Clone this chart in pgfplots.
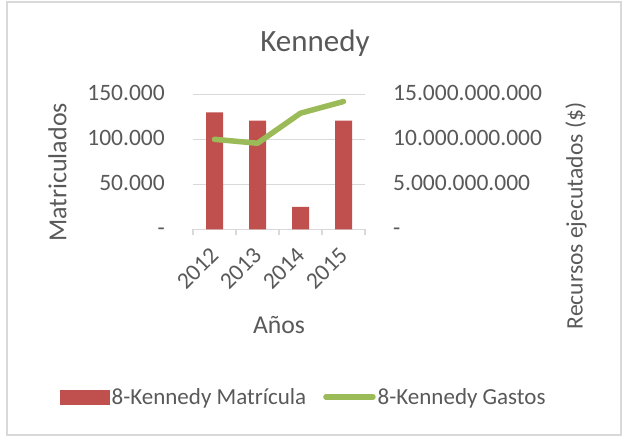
\documentclass[border=0pt]{standalone}
\usepackage{fontspec}
\setmainfont{Carlito}
\usepackage{pgfplots}
\pgfplotsset{compat=1.18}
\definecolor{barred}{HTML}{C0504D}
\definecolor{linegreen}{HTML}{9BBB59}
\definecolor{txt}{HTML}{595959}
\definecolor{gridc}{HTML}{D9D9D9}
\begin{document}
\begin{tikzpicture}
\path[use as bounding box] (0,0) rectangle (623pt,437pt);
\draw[gridc, line width=1.3pt] (7pt,2pt) rectangle (621pt,435pt);
\begin{axis}[
  at={(193pt,207.7pt)}, anchor=south west,
  scale only axis, width=172pt, height=135pt,
  xmin=-0.5, xmax=3.5, ymin=0, ymax=150000,
  scaled y ticks=false,
  axis x line*=bottom, axis y line*=left,
  x axis line style={draw=gridc, line width=1.3pt},
  y axis line style={draw=none},
  xtick={0,1,2,3}, xticklabels={2012,2013,2014,2015},
  minor xtick={-0.5,0.5,1.5,2.5,3.5},
  major tick length=0pt, minor tick length=6pt, tick align=outside,
  minor x tick style={draw=gridc, line width=1.3pt},
  major x tick style={draw=none},
  ytick={0,50000,100000,150000}, yticklabels={-,50.000,100.000,150.000},
  ymajorgrids, major grid style={draw=gridc, line width=1.3pt},
  ytick style={draw=none},
  yticklabel style={anchor=east, inner sep=0pt, xshift=-28pt, yshift=-3pt, text height=0.63em, text depth=0pt, font=\fontsize{23.5}{28}\selectfont, text=txt},
  xticklabel style={yshift=-22pt, rotate=45, anchor=east, inner sep=0pt, font=\fontsize{23.5}{28}\selectfont, text=txt},
  ylabel={Matriculados},
  every axis y label/.style={at={(axis description cs:-0.788,0.421)}, rotate=90, anchor=center, font=\fontsize{26}{30}\selectfont, text=txt},
  xlabel={Años},
  every axis x label/.style={at={(axis description cs:0.5,-0.709)}, anchor=center, font=\fontsize{25.7}{30}\selectfont, text=txt},
  title={Kennedy},
  every axis title/.style={at={(axis description cs:0.709,1.3156)}, anchor=base, font=\fontsize{31}{36}\selectfont, text=txt},
]
\addplot[ybar, bar width=17pt, fill=barred, draw=none] coordinates {(0,130000) (1,120700) (2,24800) (3,120700)};
\end{axis}
\begin{axis}[
  at={(193pt,207.7pt)}, anchor=south west,
  scale only axis, width=172pt, height=135pt,
  xmin=-0.5, xmax=3.5, ymin=0, ymax=15000000000,
  scaled y ticks=false,
  axis x line=none, axis y line*=right,
  y axis line style={draw=none}, ytick style={draw=none},
  major tick length=0pt,
  ytick={0,5000000000,10000000000,15000000000},
  yticklabels={-,5.000.000.000,10.000.000.000,15.000.000.000},
  yticklabel style={anchor=west, inner sep=0pt, xshift=28pt, yshift=-3pt, text height=0.63em, text depth=0pt, font=\fontsize{23.5}{28}\selectfont, text=txt},
  ylabel={Recursos ejecutados (\$)},
  every axis y label/.style={at={(axis description cs:2.227,0.0985)}, rotate=90, anchor=center, font=\fontsize{23.6}{28}\selectfont, text=txt},
  legend columns=2,
  legend cell align=left,
  legend style={draw=none, fill=none, inner sep=0pt, at={(axis description cs:-0.773,-1.242)}, anchor=west, font=\fontsize{23}{27}\selectfont, text=txt, /tikz/every even column/.append style={column sep=15pt}},
]
\addlegendimage{legend image code/.code={\fill[barred] (0pt,-7pt) rectangle (49pt,7pt);}}
\addlegendentry{8-Kennedy Matrícula}
\addplot[linegreen, line width=5.5pt, line cap=round, line join=round, legend image code/.code={\draw[linegreen, line width=5.5pt, line cap=round] (2pt,0pt) -- (49pt,0pt);}] coordinates {(0,10000000000) (1,9560000000) (2,12900000000) (3,14200000000)};
\addlegendentry{8-Kennedy Gastos}
\end{axis}
\end{tikzpicture}
\end{document}
